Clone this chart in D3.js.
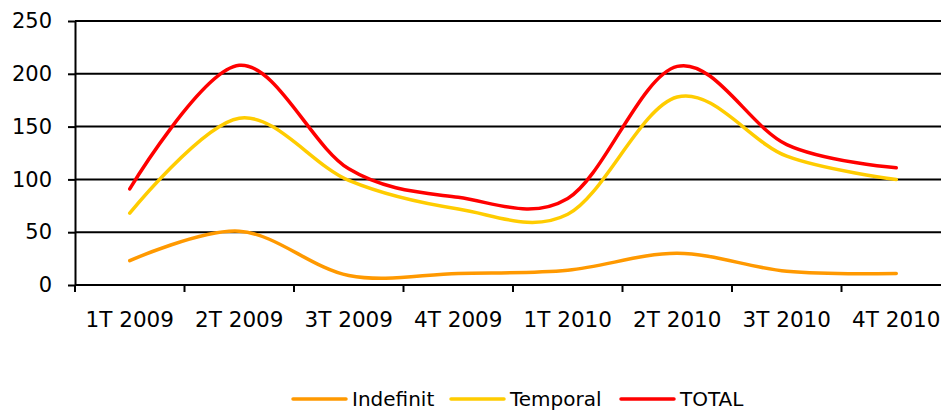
<!DOCTYPE html>
<html>
<head>
<meta charset="utf-8">
<script src="https://cdn.jsdelivr.net/npm/d3@7"></script>
<style>
  body { margin: 0; background: #fff; }
  svg { display: block; font-family: "DejaVu Sans", Verdana, sans-serif; }
</style>
</head>
<body>
<svg></svg>
<script>
// data
var quarters = ["1T 2009", "2T 2009", "3T 2009", "4T 2009", "1T 2010", "2T 2010", "3T 2010", "4T 2010"]
var indefinit = [23, 51, 9, 11, 14, 30, 13, 11]
var temporal = [68, 158, 99, 72, 67, 178, 122, 100]
var total = [91, 208, 110, 83, 82, 207, 133, 111]
var yTicks = [0, 50, 100, 150, 200, 250]

var seriesNames = ["Indefinit", "Temporal", "TOTAL"]
var seriesColors = ["#FF9900", "#FFCC00", "#FF0000"]
var series = [indefinit, temporal, total]

var width = 941, height = 412
var plotLeft = 75, plotTop = 21, plotBottom = 285

var svg = d3.select("svg")
  .attr("width", width)
  .attr("height", height)

var x = d3.scaleBand()
  .domain(quarters)
  .range([plotLeft, plotLeft + 8 * 109.5])

var y = d3.scaleLinear()
  .domain([0, 250])
  .range([plotBottom, plotTop])

// gridlines
svg.append("g")
  .selectAll("line")
  .data(yTicks.slice(1))
  .enter().append("line")
  .attr("x1", plotLeft)
  .attr("x2", width)
  .attr("y1", d => y(d))
  .attr("y2", d => y(d))
  .attr("stroke", "#000")
  .attr("stroke-width", 2)

// y axis
var yAxis = svg.append("g")
  .attr("transform", "translate(" + plotLeft + ",0)")
  .call(d3.axisLeft(y).tickValues(yTicks).tickSize(7).tickPadding(16).tickSizeOuter(0))
yAxis.select(".domain").attr("stroke-width", 2)
yAxis.selectAll(".tick line").attr("stroke-width", 2)
yAxis.selectAll("text")
  .attr("font-size", 21)
  .attr("font-family", "DejaVu Sans, Verdana, sans-serif")
  .attr("fill", "#000")

// x axis: labels in the middle of each band
var xAxis = svg.append("g")
  .attr("transform", "translate(0," + plotBottom + ")")
  .call(d3.axisBottom(x).tickSize(0).tickPadding(27).tickSizeOuter(0))
xAxis.select(".domain")
  .attr("d", "M" + plotLeft + ",0H" + width)
  .attr("stroke-width", 2)
xAxis.selectAll("text")
  .attr("font-size", 21.5)
  .attr("font-family", "DejaVu Sans, Verdana, sans-serif")
  .attr("fill", "#000")

// x tick marks sit on the band edges
svg.append("g")
  .selectAll("line")
  .data(quarters)
  .enter().append("line")
  .attr("x1", d => x(d))
  .attr("x2", d => x(d))
  .attr("y1", plotBottom)
  .attr("y2", plotBottom + 7)
  .attr("stroke", "#000")
  .attr("stroke-width", 2)

// smoothed lines, like excel
var line = d3.line()
  .x((d, i) => x(quarters[i]) + x.bandwidth() / 2)
  .y(d => y(d))
  .curve(d3.curveCardinal.tension(0))

svg.append("g")
  .selectAll("path")
  .data(series)
  .enter().append("path")
  .attr("d", d => line(d))
  .attr("fill", "none")
  .attr("stroke", (d, i) => seriesColors[i])
  .attr("stroke-width", 3.5)
  .attr("stroke-linecap", "round")
  .attr("stroke-linejoin", "round")

// legend
var legendX = [293, 451, 621]
var legend = svg.append("g")
  .selectAll("g")
  .data(seriesNames)
  .enter().append("g")
  .attr("transform", (d, i) => "translate(" + legendX[i] + ",399)")

legend.append("line")
  .attr("x1", 0)
  .attr("x2", 53)
  .attr("stroke", (d, i) => seriesColors[i])
  .attr("stroke-width", 3.5)
  .attr("stroke-linecap", "round")

legend.append("text")
  .attr("x", 59)
  .attr("y", 7)
  .attr("font-size", 20)
  .attr("fill", "#000")
  .text(d => d)
</script>
</body>
</html>
